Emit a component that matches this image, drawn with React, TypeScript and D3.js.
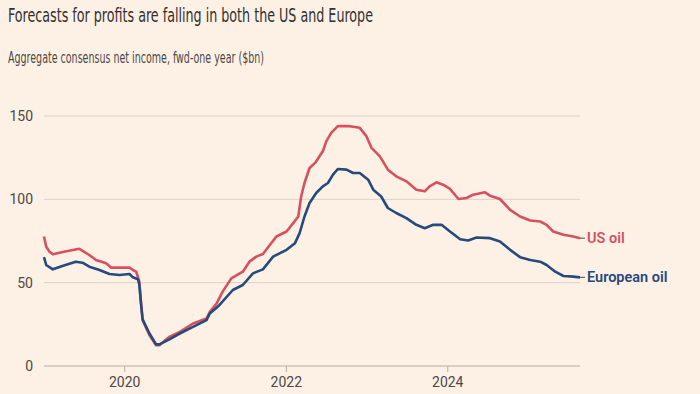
import React from "react";
import * as d3 from "d3";

// values ($bn)
const usOil: [string, number][] = [
  ["2019-01-01", 77.7], ["2019-01-11", 71.6], ["2019-01-26", 68.6], ["2019-02-10", 67],
  ["2019-04-01", 68.5], ["2019-06-10", 70.3], ["2019-07-25", 66.6], ["2019-08-24", 63.6],
  ["2019-10-09", 61.6], ["2019-11-01", 59], ["2020-01-23", 59], ["2020-02-07", 57.6],
  ["2020-02-22", 56.6], ["2020-03-07", 50.6], ["2020-03-15", 37.6], ["2020-03-22", 27.5],
  ["2020-04-22", 18.5], ["2020-05-22", 12.5], ["2020-06-06", 12.5], ["2020-07-21", 17.5],
  ["2020-09-06", 20.5], ["2020-11-05", 25.5], ["2021-01-05", 28.5], ["2021-01-20", 32.5],
  ["2021-02-20", 37.6], ["2021-03-19", 44.6], ["2021-04-27", 52.6], ["2021-06-18", 56.6],
  ["2021-07-18", 62.6], ["2021-08-18", 65.6], ["2021-09-17", 67.2], ["2021-11-17", 77.7],
  ["2022-01-02", 80.7], ["2022-02-01", 85.7], ["2022-02-24", 89.7], ["2022-03-09", 101.7],
  ["2022-03-24", 109.8], ["2022-04-16", 118.8], ["2022-05-12", 122], ["2022-05-31", 125.8],
  ["2022-06-15", 128.8], ["2022-07-01", 134.9], ["2022-07-23", 139.9], ["2022-08-22", 143.9],
  ["2022-10-14", 143.9], ["2022-11-29", 142.9], ["2022-12-29", 137.9], ["2023-01-21", 130.9],
  ["2023-02-28", 125.8], ["2023-04-05", 117.8], ["2023-05-13", 113.8], ["2023-06-28", 110.8],
  ["2023-08-12", 105.8], ["2023-09-19", 104.8], ["2023-10-11", 107.8], ["2023-11-11", 110.2],
  ["2023-12-11", 108.8], ["2024-01-11", 106.3], ["2024-02-18", 100.2], ["2024-03-26", 100.8],
  ["2024-04-25", 102.8], ["2024-06-17", 104.2], ["2024-07-10", 102.2], ["2024-08-24", 100.2],
  ["2024-10-09", 93.7], ["2024-11-23", 89.7], ["2025-01-08", 87.3], ["2025-02-22", 86.7],
  ["2025-03-23", 84.7], ["2025-04-22", 80.7], ["2025-06-07", 78.7], ["2025-07-22", 77.7],
  ["2025-08-21", 76.7],
];

const europeanOil: [string, number][] = [
  ["2019-01-01", 65.3], ["2019-01-11", 60.6], ["2019-02-10", 58], ["2019-03-25", 60],
  ["2019-05-25", 62.6], ["2019-06-24", 62], ["2019-07-25", 59.6], ["2019-09-09", 57.6],
  ["2019-10-24", 55.2], ["2019-12-08", 54.6], ["2020-01-23", 55.2], ["2020-02-07", 53.2],
  ["2020-03-01", 52], ["2020-03-07", 49], ["2020-03-15", 37], ["2020-03-22", 28],
  ["2020-04-22", 19.5], ["2020-05-22", 13], ["2020-06-06", 13], ["2020-07-21", 16],
  ["2020-09-06", 19.5], ["2020-11-05", 23.5], ["2021-01-05", 27.5], ["2021-01-20", 31.5],
  ["2021-03-04", 36.5], ["2021-05-04", 45.6], ["2021-06-18", 48.6], ["2021-08-03", 55.6],
  ["2021-09-17", 58], ["2021-11-02", 65.6], ["2022-01-02", 69.7], ["2022-02-09", 73.7],
  ["2022-03-02", 79.7], ["2022-03-24", 89.7], ["2022-04-16", 97.8], ["2022-05-16", 103.8],
  ["2022-06-15", 107.8], ["2022-07-08", 109.8], ["2022-07-31", 114.8], ["2022-08-22", 118.2],
  ["2022-09-30", 117.8], ["2022-10-30", 115.8], ["2022-11-29", 115.8], ["2023-01-06", 111.8],
  ["2023-01-29", 105.8], ["2023-03-06", 101.7], ["2023-04-05", 94.8], ["2023-05-13", 91.8],
  ["2023-06-28", 88.7], ["2023-08-12", 84.7], ["2023-09-19", 82.7], ["2023-10-27", 84.7],
  ["2023-12-04", 84.7], ["2024-01-11", 80.7], ["2024-02-26", 76.1], ["2024-04-02", 75.3],
  ["2024-05-10", 77.1], ["2024-07-10", 76.7], ["2024-08-24", 74.7], ["2024-10-09", 69.7],
  ["2024-11-23", 65.3], ["2025-01-08", 63.6], ["2025-02-22", 62.6], ["2025-03-23", 60.6],
  ["2025-05-01", 56.6], ["2025-06-07", 54], ["2025-07-22", 53.6], ["2025-08-21", 53.2],
];

const yTicks = [0, 50, 100, 150];
const xTicks = ["2020", "2022", "2024"];

const series = [
  { name: "US oil", data: usOil, color: "#d6505d" },
  { name: "European oil", data: europeanOil, color: "#274a7d" },
];

const width = 700;
const height = 394;
const margin = { left: 44, right: 120, top: 116, bottom: 28 };

const parse = d3.timeParse("%Y-%m-%d");

const App = () => {
  const x = d3
    .scaleTime()
    .domain([new Date(2019, 0, 1), parse("2025-08-21") as Date])
    .range([margin.left, width - margin.right]);

  const y = d3
    .scaleLinear()
    .domain([0, 150])
    .range([height - margin.bottom, margin.top]);

  const line = d3
    .line<[string, number]>()
    .x((d) => x(parse(d[0]) as Date))
    .y((d) => y(d[1]));

  const font = "Roboto, 'Liberation Sans', sans-serif";
  const narrow = "'Liberation Sans Narrow', 'DejaVu Sans Condensed', Roboto, sans-serif";

  return (
    <svg
      width={width}
      height={height}
      style={{ position: "absolute", left: 0, top: 0, background: "#fdf1e6" }}
      fontFamily={font}
    >
      <rect width={width} height={height} fill="#fdf1e6" />
      <text
        x={8}
        y={22}
        fontSize={20}
        fontFamily={narrow}
        fill="#33302e"
        textLength={365}
        lengthAdjust="spacingAndGlyphs"
      >
        Forecasts for profits are falling in both the US and Europe
      </text>
      <text
        x={8}
        y={63}
        fontSize={16}
        fontFamily={narrow}
        fill="#4d4845"
        textLength={256}
        lengthAdjust="spacingAndGlyphs"
      >
        Aggregate consensus net income, fwd-one year ($bn)
      </text>

      {/* gridlines */}
      {yTicks.map((t) => (
        <g key={t}>
          <line
            x1={margin.left}
            x2={width - margin.right}
            y1={y(t)}
            y2={y(t)}
            stroke={t === 0 ? "#b5aca4" : "#dcd2c8"}
            strokeWidth={1}
          />
          <text x={33} y={y(t) + 5} textAnchor="end" fontSize={14} fill="#4d4845">
            {t}
          </text>
        </g>
      ))}

      {/* x ticks */}
      {xTicks.map((t) => {
        const xp = x(new Date(+t, 0, 1));
        return (
          <g key={t}>
            <line x1={xp} x2={xp} y1={y(0)} y2={y(0) + 6} stroke="#b5aca4" />
            <text x={xp} y={387} textAnchor="middle" fontSize={14} fill="#4d4845">
              {t}
            </text>
          </g>
        );
      })}

      {/* series */}
      {series.map((s) => (
        <path
          key={s.name}
          d={line(s.data) || ""}
          fill="none"
          stroke={s.color}
          strokeWidth={2.6}
          strokeLinejoin="round"
        />
      ))}

      {/* end labels */}
      {series.map((s) => {
        const last = s.data[s.data.length - 1];
        const xp = x(parse(last[0]) as Date);
        const yp = y(last[1]);
        return (
          <g key={s.name + "-label"}>
            <line x1={xp} x2={xp + 5} y1={yp} y2={yp} stroke="#4d4845" strokeWidth={1} />
            <text x={xp + 7} y={yp + 5} fontSize={14.5} fontWeight={600} fill={s.color}>
              {s.name}
            </text>
          </g>
        );
      })}
    </svg>
  );
};

export default App;
